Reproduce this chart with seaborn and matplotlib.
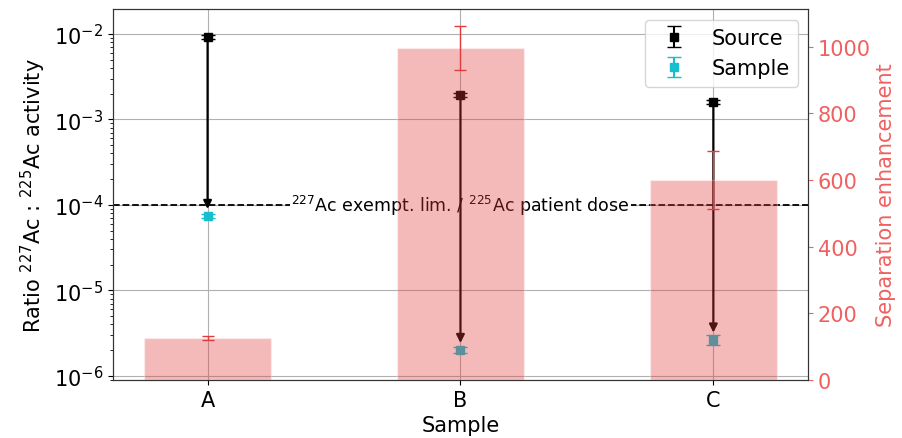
import numpy as np
import seaborn as sns
import matplotlib.pyplot as plt

samples = ["A", "B", "C"]
source_ratio = [9.2e-3, 1.95e-3, 1.6e-3]
source_err = [4e-4, 1.0e-4, 0.9e-4]
sample_ratio = [7.4e-5, 2.0e-6, 2.65e-6]
sample_err = [4e-6, 1.5e-7, 3.8e-7]
enhancement = [125, 995, 600]
enhancement_err = [6, 66, 86]

red = "#e23b3b"
label_red = "#f06060"

sns.set_style("ticks")
plt.rcParams["font.family"] = ["DejaVu Sans"]
plt.rcParams["font.size"] = 15
for k in ["text.color", "axes.labelcolor", "xtick.color", "ytick.color"]:
    plt.rcParams[k] = "black"
plt.rcParams["axes.edgecolor"] = "#333333"

fig, ax = plt.subplots(figsize=(9.02, 4.39), dpi=100)
fig.subplots_adjust(left=0.125, right=0.896, bottom=0.132, top=0.977)

x = np.arange(len(samples))
ax.errorbar(x, source_ratio, yerr=source_err, fmt="s", color="k", ms=6,
            capsize=5, label="Source", zorder=3)
ax.errorbar(x, sample_ratio, yerr=sample_err, fmt="s", color="tab:cyan", ms=6,
            capsize=5, label="Sample", zorder=3)
for i in x:
    ax.annotate("", xy=(i, sample_ratio[i]), xytext=(i, source_ratio[i]),
                arrowprops=dict(arrowstyle="-|>", color="k", lw=1.6,
                                mutation_scale=12, shrinkA=0, shrinkB=5),
                zorder=4)

ax.axhline(1e-4, color="k", ls="--", lw=1.3, zorder=2)
ax.text(1, 1e-4, r"$^{227}$Ac exempt. lim. / $^{225}$Ac patient dose",
        ha="center", va="center", fontsize=12.5, zorder=2.5,
        bbox=dict(facecolor="white", edgecolor="none", pad=1))

ax.set_yscale("log")
ax.set_ylim(8.9e-7, 1.95e-2)
ax.set_ylabel(r"Ratio $^{227}$Ac : $^{225}$Ac activity")
ax.set_xlabel("Sample")
ax.grid(True, which="major", color="#b0b0b0", lw=0.8)
ax.legend(loc="upper right", framealpha=0.8)

ax2 = ax.twinx()
sns.barplot(x=samples, y=enhancement, ax=ax2, color=red, alpha=0.35,
            saturation=1, width=0.5, errorbar=None)
ax2.errorbar(x, enhancement, yerr=enhancement_err, fmt="none", ecolor=red,
             capsize=4, lw=1)
ax2.set_ylim(0, 1113)
ax2.set_ylabel("Separation enhancement", color=label_red)
ax2.tick_params(axis="y", colors=label_red)
ax2.set_xlabel("Sample")

ax.set_xlim(-0.375, 2.375)
ax.set_xticks(x)
ax.set_xticklabels(samples)

fig.savefig("out.png", dpi=100)
